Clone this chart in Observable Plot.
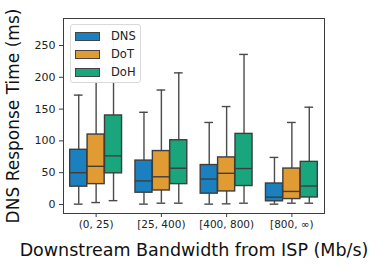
<!DOCTYPE html>
<html>
<head>
<meta charset="utf-8">
<script src="https://cdn.jsdelivr.net/npm/d3@7"></script>
<script src="https://cdn.jsdelivr.net/npm/@observablehq/plot@0.6"></script>
<style>
  body { margin: 0; background: #fff; }
  #chart { position: relative; width: 374px; height: 265px; font-family: "DejaVu Sans", sans-serif; }
  .legend { position: absolute; left: 70px; top: 24px; width: 71px; height: 59px; box-sizing: border-box;
            background: rgba(255,255,255,0.95); border: 1px solid #d9d9d9; border-radius: 3px; }
  .legend .row { position: absolute; left: 4px; height: 10px; display: flex; align-items: center; }
  .legend .sw { width: 25px; height: 9px; border: 1px solid #444; box-sizing: border-box; }
  .legend .lb { margin-left: 11px; font-size: 11.5px; color: #222; line-height: 10px; }
</style>
</head>
<body>
<div id="chart"></div>
<script>
const categories = ["(0, 25)", "[25, 400)", "[400, 800)", "[800, ∞)"];
const series = ["DNS", "DoT", "DoH"];
const colors = ["#1b80c0", "#e09b32", "#1aa67c"];
// per category, per series: [lower whisker, q1, median, q3, upper whisker]
const dnsStats = [[0.5, 28, 50, 86, 172], [0.5, 18.5, 37, 69, 145], [0.5, 17, 40, 62, 129], [0.5, 5, 11.5, 33, 74]];
const dotStats = [[3, 32, 60, 110, 225], [2, 22, 43.5, 84, 180], [1, 20.5, 49, 74, 154], [2, 8.5, 20.5, 56.5, 129]];
const dohStats = [[6, 49, 76.5, 140, 262], [2, 32, 57, 101, 207], [2, 29, 56.5, 111, 236], [2, 11, 29, 67, 153]];
const yTicks = [0, 50, 100, 150, 200, 250];

const allStats = [dnsStats, dotStats, dohStats];
const groupWidth = 0.8;
const slot = groupWidth / series.length;
const rows = [];
categories.forEach((c, i) => {
  series.forEach((s, j) => {
    const [lo, q1, med, q3, hi] = allStats[j][i];
    const center = i - groupWidth / 2 + slot * (j + 0.5);
    rows.push({cat: c, series: s, center, x1: center - slot * 0.49, x2: center + slot * 0.49,
               cx1: center - slot * 0.25, cx2: center + slot * 0.25, lo, q1, med, q3, hi});
  });
});

const plot = Plot.plot({
  width: 374,
  height: 265,
  marginLeft: 63,
  marginRight: 50,
  marginTop: 18,
  marginBottom: 52,
  style: {fontFamily: "DejaVu Sans, sans-serif", background: "#fff", overflow: "visible"},
  x: {domain: [-0.5, categories.length - 0.5], axis: null},
  y: {domain: [-14.2, 292.5], axis: null},
  color: {domain: series, range: colors},
  marks: [
    Plot.ruleX(rows, {x: "center", y1: "lo", y2: "q1", stroke: "#4a4a4a", strokeWidth: 1.4}),
    Plot.ruleX(rows, {x: "center", y1: "q3", y2: "hi", stroke: "#4a4a4a", strokeWidth: 1.4}),
    Plot.ruleY(rows, {x1: "cx1", x2: "cx2", y: "lo", stroke: "#4a4a4a", strokeWidth: 1.4}),
    Plot.ruleY(rows, {x1: "cx1", x2: "cx2", y: "hi", stroke: "#4a4a4a", strokeWidth: 1.4}),
    Plot.rect(rows, {x1: "x1", x2: "x2", y1: "q1", y2: "q3", fill: "series", stroke: "#3d3d3d", strokeWidth: 1.4}),
    Plot.ruleY(rows, {x1: "x1", x2: "x2", y: "med", stroke: "#3d3d3d", strokeWidth: 1.4}),
    Plot.frame({stroke: "#3d3d3d", strokeWidth: 1}),
    Plot.axisY({ticks: yTicks, tickSize: 4, tickPadding: 4, fontSize: 11, color: "#222", stroke: "#3d3d3d", label: null}),
    Plot.axisX({ticks: d3.range(categories.length), tickFormat: i => categories[i], tickSize: 4, tickPadding: 3, fontSize: 10.5, color: "#222", stroke: "#3d3d3d", label: null}),
    Plot.text(["DNS Response Time (ms)"], {frameAnchor: "left", textAnchor: "middle", dx: -50, rotate: -90, fontSize: 17, fill: "#111", text: d => d}),
    Plot.text(["Downstream Bandwidth from ISP (Mb/s)"], {frameAnchor: "bottom", dy: 42, fontSize: 17.5, fill: "#111", text: d => d})
  ]
});
const chart = document.getElementById("chart");
chart.appendChild(plot);

const legend = document.createElement("div");
legend.className = "legend";
series.forEach((s, j) => {
  const row = document.createElement("div");
  row.className = "row";
  row.style.top = (6 + j * 18) + "px";
  row.innerHTML = `<span class="sw" style="background:${colors[j]}"></span><span class="lb">${s}</span>`;
  legend.appendChild(row);
});
chart.appendChild(legend);
</script>
</body>
</html>
